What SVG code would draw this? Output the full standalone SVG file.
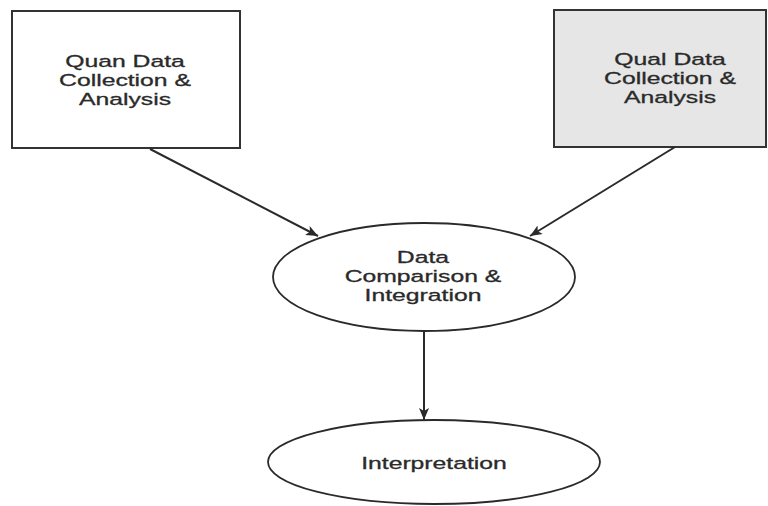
<svg xmlns="http://www.w3.org/2000/svg" width="768" height="506" viewBox="0 0 768 506">
<style>
.box{stroke:#333;stroke-width:2;}
.ell{fill:#fff;stroke:#2a2a2a;stroke-width:1.8;}
.lbl{font-family:"Liberation Sans",Arial,sans-serif;font-size:16.5px;fill:#2a2a2a;stroke:#2a2a2a;stroke-width:0.3;text-anchor:middle;}
.edge{stroke:#2a2a2a;stroke-width:2;fill:none;marker-end:url(#arr);}
</style>
<defs>
<marker id="arr" viewBox="0 0 12 10" refX="12" refY="5" markerWidth="12" markerHeight="10" markerUnits="userSpaceOnUse" orient="auto">
<path d="M0,0 L12,5 L0,10 L3,5 Z" fill="#2a2a2a"/>
</marker>
</defs>
<rect width="768" height="506" fill="#fff"/>
<g id="quan">
<rect class="box" x="12" y="11" width="228" height="137" fill="#fff"/>
<g transform="translate(125 0) scale(1.5 1)">
<text class="lbl" x="0" y="67">Quan Data</text>
<text class="lbl" x="0" y="86">Collection &amp;</text>
<text class="lbl" x="0" y="105">Analysis</text>
</g>
</g>
<g id="qual">
<rect class="box" x="554" y="10" width="212" height="137" fill="#e6e6e6"/>
<g transform="translate(670 0) scale(1.5 1)">
<text class="lbl" x="0" y="65">Qual Data</text>
<text class="lbl" x="0" y="84">Collection &amp;</text>
<text class="lbl" x="0" y="103">Analysis</text>
</g>
</g>
<g id="integration">
<ellipse class="ell" cx="424" cy="277" rx="151" ry="54"/>
<g transform="translate(423 0) scale(1.5 1)">
<text class="lbl" x="0" y="263">Data</text>
<text class="lbl" x="0" y="282">Comparison &amp;</text>
<text class="lbl" x="0" y="301">Integration</text>
</g>
</g>
<g id="interpretation">
<ellipse class="ell" cx="434" cy="462" rx="166" ry="42"/>
<g transform="translate(434 0) scale(1.5 1)">
<text class="lbl" x="0" y="469">Interpretation</text>
</g>
</g>
<g id="connectors">
<line class="edge" x1="150" y1="149" x2="318" y2="236"/>
<line class="edge" x1="675" y1="147" x2="530" y2="236"/>
<line class="edge" x1="424" y1="331" x2="424" y2="420"/>
</g>
</svg>
